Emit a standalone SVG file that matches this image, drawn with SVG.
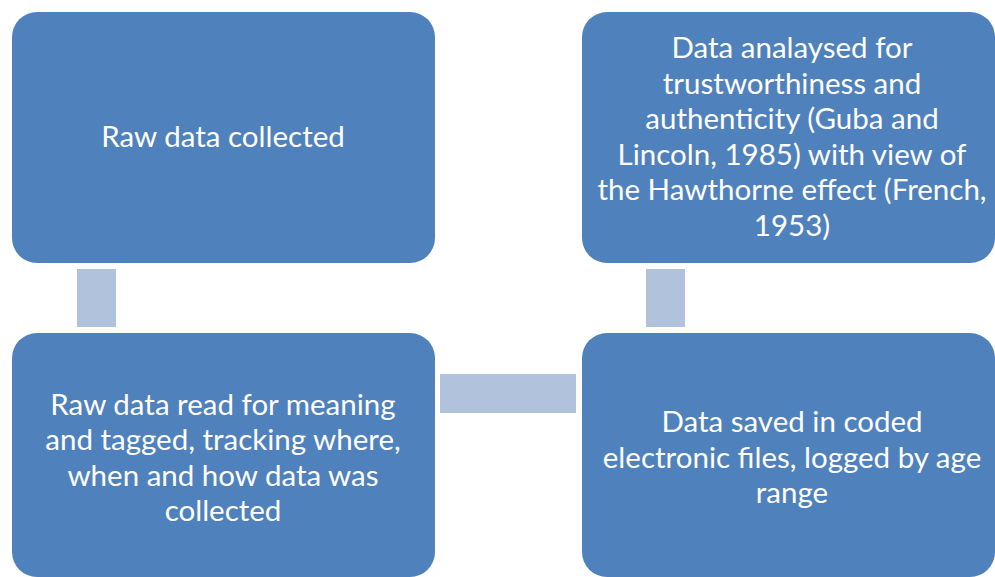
<svg xmlns="http://www.w3.org/2000/svg" width="995" height="577" viewBox="0 0 995 577">
<style>
.box{fill:#4F81BD}
.conn{fill:#B1C2DC}
text{font-family:Lato,"Open Sans",sans-serif;font-size:29.5px;fill:#FFFFFF;text-anchor:middle}
</style>
<rect width="995" height="577" fill="#FFFFFF"/>
<g id="connectors">
<rect class="conn" x="77" y="269" width="39" height="58"/>
<rect class="conn" x="646" y="269" width="39" height="58"/>
<rect class="conn" x="440" y="374" width="136" height="39"/>
</g>
<g id="n1">
<rect class="box" x="12" y="12" width="423" height="251" rx="25"/>
<text x="223" y="147">Raw data collected</text>
</g>
<g id="n2">
<rect class="box" x="582" y="12" width="413" height="251" rx="25"/>
<text x="792" y="58">Data analaysed for</text>
<text x="792" y="94">trustworthiness and</text>
<text x="792" y="129">authenticity (Guba and</text>
<text x="792" y="165">Lincoln, 1985) with view of</text>
<text x="792" y="200">the Hawthorne effect (French,</text>
<text x="792" y="236">1953)</text>
</g>
<g id="n3">
<rect class="box" x="12" y="333" width="423" height="244" rx="25"/>
<text x="223" y="415">Raw data read for meaning</text>
<text x="223" y="450">and tagged, tracking where,</text>
<text x="223" y="486">when and how data was</text>
<text x="223" y="521">collected</text>
</g>
<g id="n4">
<rect class="box" x="582" y="333" width="413" height="244" rx="25"/>
<text x="792" y="432">Data saved in coded</text>
<text x="792" y="468">electronic files, logged by age</text>
<text x="792" y="503">range</text>
</g>
</svg>
